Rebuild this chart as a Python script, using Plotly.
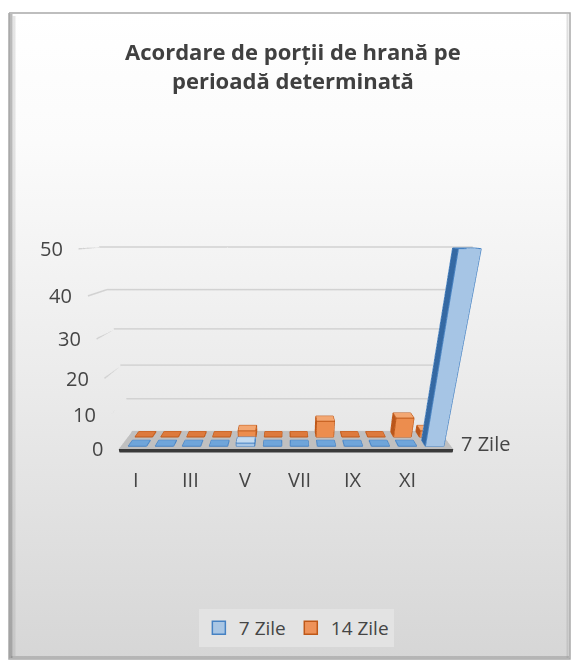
import math
import plotly.graph_objects as go

# ---------------- data ----------------
months = ["I", "II", "III", "IV", "V", "VI", "VII", "VIII", "IX", "X", "XI", "XII"]
month_labels_shown = ["I", "III", "V", "VII", "IX", "XI"]
series_names = ["7 Zile", "14 Zile"]
zile_7 = [0, 0, 0, 0, 1, 0, 0, 0, 0, 0, 0, 50]
zile_14 = [0, 0, 0, 0, 2, 0, 0, 5, 0, 0, 6, 2]
value_ticks = [0, 10, 20, 30, 40, 50]
title_lines = ["Acordare de porții de hrană pe", "perioadă determinată"]

# ---------------- plot box (data units) ----------------
X_LO, X_HI = -0.65, len(months) - 1 + 0.65
Y_LO, Y_HI = 0.0, 2.0            # series rows: front = 7 Zile, back = 14 Zile
Z_FLOOR_TOP, Z_FLOOR_BOT = -0.3, -1.4
Z_HI = value_ticks[-1]
BAR_HALF_W = 0.34
BAR_DEPTH = (0.18, 0.82)

FONT = "Open Sans"
TEXT_COL = "#454545"

PALETTES = {
    "7 Zile": dict(top="#C3DAF0", flat="#6FA5DA", front="#A6C5E5", back="#A6C5E5",
                   left="#3569A3", right="#5C90C8", edge="#4682C3", legend="#A9C6E4"),
    "14 Zile": dict(top="#F3A772", flat="#DD7A3D", front="#EC8D4E", back="#EC8D4E",
                    left="#B9561C", right="#CF6A2D", edge="#BF5818", legend="#EE9259"),
}
FLOOR = dict(top="#C0C0C0", flat="#C0C0C0", front="#3A3A3A", back="#C0C0C0",
             left="#8A8A8A", right="#8A8A8A", edge=None)

# ---------------- camera: perspective view from the front, tilted down ----------------
W_WORLD, D_WORLD, H_WORLD = 0.9254, 0.0972, 0.52     # floor width, floor depth, height 0..Z_HI
TILT = math.atan(0.4)
CAM = (0.0, -0.8536, 0.5587)
SCALE = 2.5

kx = W_WORLD / (X_HI - X_LO)
ky = D_WORLD / (Y_HI - Y_LO)
kz = H_WORLD / Z_HI


def to_world(x, y, z):
    return ((x - (X_LO + X_HI) / 2) * kx, (y - Y_LO) * ky, z * kz)


box_c = to_world((X_LO + X_HI) / 2, (Y_LO + Y_HI) / 2, (Z_HI + Z_FLOOR_BOT) / 2)
fwd = (0.0, math.cos(TILT), -math.sin(TILT))
eye = [SCALE * (CAM[i] - box_c[i]) for i in range(3)]
look = [SCALE * (CAM[i] + fwd[i] - box_c[i]) for i in range(3)]
aspect = (SCALE * W_WORLD, SCALE * D_WORLD, SCALE * kz * (Z_HI - Z_FLOOR_BOT))


# ---------------- box builder ----------------
def add_box(acc, x0, x1, y0, y1, z0, z1, pal):
    verts, tris, cols, edges = acc
    b = len(verts)
    pts = [(x0, y0, z0), (x1, y0, z0), (x1, y1, z0), (x0, y1, z0),
           (x0, y0, z1), (x1, y0, z1), (x1, y1, z1), (x0, y1, z1)]
    verts.extend(pts)
    flat = z1 <= z0
    faces = [("top", (4, 5, 6), (4, 6, 7))]
    if not flat:
        faces += [("front", (0, 1, 5), (0, 5, 4)), ("back", (3, 2, 6), (3, 6, 7)),
                  ("left", (0, 3, 7), (0, 7, 4)), ("right", (1, 2, 6), (1, 6, 5))]
    for name, t1, t2 in faces:
        c = pal["flat"] if (flat and name == "top") else pal[name]
        for t in (t1, t2):
            tris.append(tuple(b + k for k in t))
            cols.append(c)
    if pal.get("edge"):
        pairs = [(4, 5), (5, 6), (6, 7), (7, 4)]
        if not flat:
            pairs += [(0, 1), (1, 2), (2, 3), (3, 0), (0, 4), (1, 5), (2, 6), (3, 7)]
        for a, c in pairs:
            edges.extend([pts[a], pts[c], (None, None, None)])


def mesh_trace(acc, name):
    verts, tris, cols, _ = acc
    return go.Mesh3d(
        x=[v[0] for v in verts], y=[v[1] for v in verts], z=[v[2] for v in verts],
        i=[t[0] for t in tris], j=[t[1] for t in tris], k=[t[2] for t in tris],
        facecolor=cols, flatshading=True, name=name, showlegend=False, hoverinfo="skip",
        lighting=dict(ambient=1.0, diffuse=0.0, specular=0.0, roughness=1.0, fresnel=0.0),
    )


def edge_trace(acc, color):
    e = acc[3]
    return go.Scatter3d(x=[p[0] for p in e], y=[p[1] for p in e], z=[p[2] for p in e],
                        mode="lines", line=dict(color=color, width=2),
                        showlegend=False, hoverinfo="skip")


fig = go.Figure()

# chart-area background (white at the top fading to light grey) with a thin frame
fig.add_trace(go.Scatter(
    x=[9, 570, 570, 9, 9], y=[13, 13, 659, 659, 13], mode="lines", fill="toself",
    fillgradient=dict(type="vertical",
                      colorscale=[[0, "#D6D6D6"], [0.45, "#ECECEC"], [0.8, "#FBFBFB"],
                                  [1, "#FFFFFF"]]),
    line=dict(color="#A9A9A9", width=1.5), hoverinfo="skip", showlegend=False))

# floor
floor_acc = ([], [], [], [])
add_box(floor_acc, X_LO, X_HI, Y_LO, Y_HI, Z_FLOOR_BOT, Z_FLOOR_TOP, FLOOR)
fig.add_trace(mesh_trace(floor_acc, "floor"))

# wall gridlines: back wall + left side wall
gx, gy, gz = [], [], []
for v in value_ticks[1:]:
    gx += [X_LO, X_LO, X_HI, None]
    gy += [Y_LO, Y_HI, Y_HI, None]
    gz += [v, v, v, None]
fig.add_trace(go.Scatter3d(x=gx, y=gy, z=gz, mode="lines",
                           line=dict(color="#D2D2D2", width=3),
                           showlegend=False, hoverinfo="skip"))

# columns: back row first, then front row
for row, (name, values) in reversed(list(enumerate(zip(series_names, [zile_7, zile_14])))):
    pal = PALETTES[name]
    acc = ([], [], [], [])
    for i, v in enumerate(values):
        add_box(acc, i - BAR_HALF_W, i + BAR_HALF_W,
                row + BAR_DEPTH[0], row + BAR_DEPTH[1], 0, v, pal)
    fig.add_trace(mesh_trace(acc, name))
    fig.add_trace(edge_trace(acc, pal["edge"]))

# legend entries
for name in series_names:
    pal = PALETTES[name]
    fig.add_trace(go.Scatter(
        x=[None], y=[None], mode="markers", name=name,
        marker=dict(symbol="square", size=13, color=pal["legend"],
                    line=dict(color=pal["edge"], width=1.5))))

# axis labels drawn in the scene
annotations = []
for v in value_ticks:
    annotations.append(dict(x=X_LO, y=Y_LO, z=v, text=str(v), showarrow=False,
                            xanchor="right", yanchor="middle", xshift=-13,
                            font=dict(family=FONT, size=20, color=TEXT_COL)))
for i, m in enumerate(months):
    if m in month_labels_shown:
        annotations.append(dict(x=i, y=Y_LO, z=Z_FLOOR_BOT, text=m, showarrow=False,
                                xanchor="center", yanchor="top", yshift=-11,
                                font=dict(family=FONT, size=20, color=TEXT_COL)))
annotations.append(dict(x=X_HI, y=0.5, z=0, text=series_names[0], showarrow=False,
                        xanchor="left", yanchor="middle", xshift=10,
                        font=dict(family=FONT, size=20, color=TEXT_COL)))

hidden = dict(visible=False, showbackground=False, showgrid=False, zeroline=False,
              showspikes=False, autorange=False)

# bevelled edge of the chart frame (shaded left and bottom rims)
frame_shapes = [
    dict(type="line", xref="x", yref="y", x0=11, x1=11, y0=14, y1=658,
         line=dict(color="rgba(105,105,105,0.45)", width=3), layer="above"),
    dict(type="line", xref="x", yref="y", x0=14, x1=14, y0=16, y1=656,
         line=dict(color="rgba(150,150,150,0.25)", width=3), layer="above"),
    dict(type="line", xref="x", yref="y", x0=11, x1=569, y0=657, y1=657,
         line=dict(color="rgba(120,120,120,0.35)", width=2), layer="above"),
    dict(type="line", xref="x", yref="y", x0=567.5, x1=567.5, y0=14, y1=658,
         line=dict(color="rgba(150,150,150,0.3)", width=2), layer="above"),
]

fig.update_layout(
    width=571, height=662,
    margin=dict(l=0, r=0, t=0, b=0),
    paper_bgcolor="#FFFFFF", plot_bgcolor="rgba(0,0,0,0)",
    xaxis=dict(range=[0, 571], visible=False, fixedrange=True, domain=[0, 1]),
    yaxis=dict(range=[662, 0], visible=False, fixedrange=True, domain=[0, 1]),
    shapes=frame_shapes,
    scene=dict(
        domain=dict(x=[15.5 / 571, 555.5 / 571], y=[137 / 662, 437 / 662]),
        bgcolor="rgba(0,0,0,0)",
        xaxis=dict(range=[X_LO, X_HI], **hidden),
        yaxis=dict(range=[Y_LO, Y_HI], **hidden),
        zaxis=dict(range=[Z_FLOOR_BOT, Z_HI], **hidden),
        aspectmode="manual",
        aspectratio=dict(x=aspect[0], y=aspect[1], z=aspect[2]),
        camera=dict(eye=dict(x=eye[0], y=eye[1], z=eye[2]),
                    center=dict(x=look[0], y=look[1], z=look[2]),
                    up=dict(x=0, y=0, z=1),
                    projection=dict(type="perspective")),
        dragmode=False,
        annotations=annotations,
    ),
    title=dict(text="<br>".join(f"<b>{t}</b>" for t in title_lines),
               x=0.513, xanchor="center", y=0.909, yanchor="middle",
               font=dict(family=FONT, size=22, color="#404040")),
    legend=dict(orientation="h", x=0.519, xanchor="center", y=0.0514, yanchor="middle",
                bgcolor="#E3E3E3", font=dict(family=FONT, size=19, color=TEXT_COL),
                itemwidth=30, traceorder="normal"),
    showlegend=True,
)

fig.write_html("out.html")
